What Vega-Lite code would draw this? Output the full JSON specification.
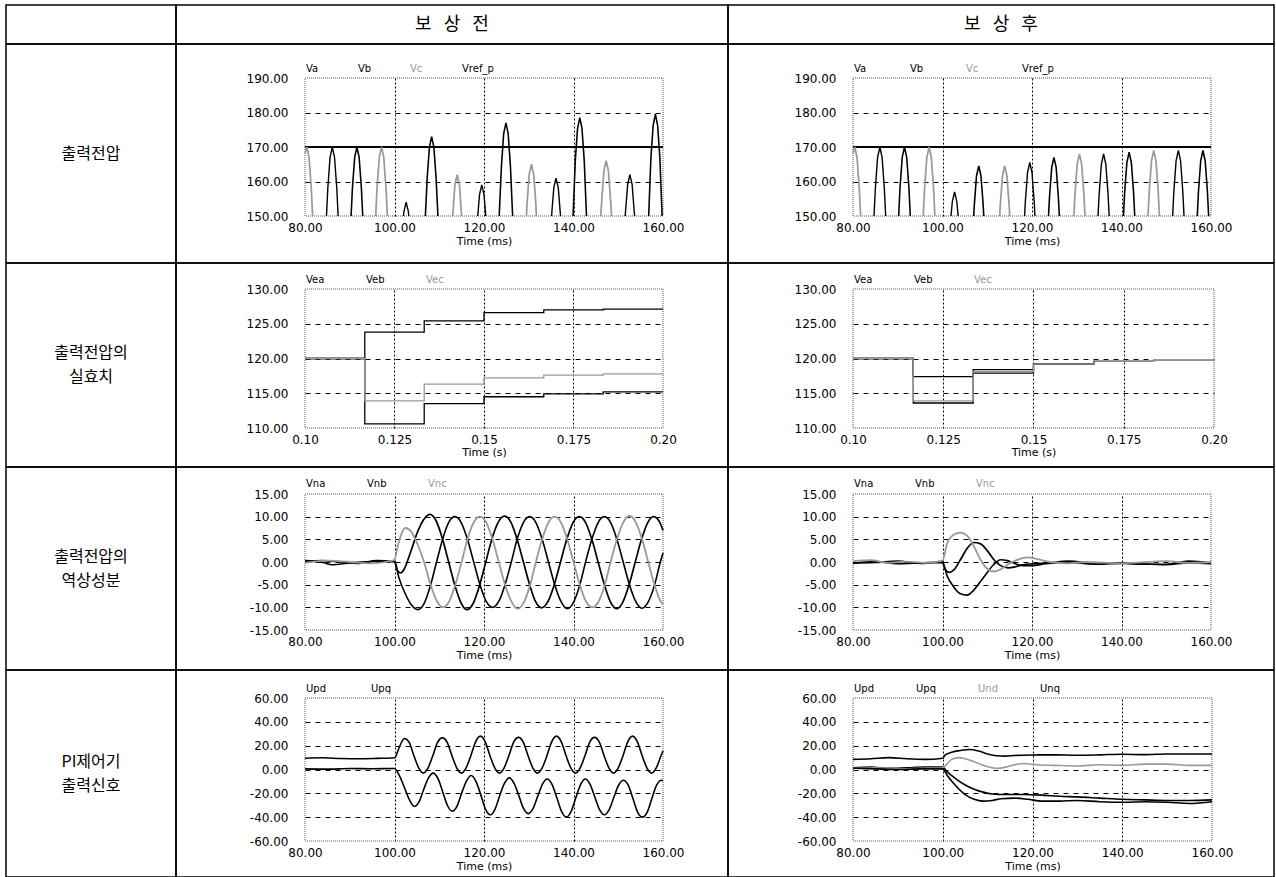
{
"$schema":"https://vega.github.io/schema/vega-lite/v6.json",
"background":"white",
"padding":{"left":5,"top":4,"right":3,"bottom":1},
"columns":3,"spacing":0,"bounds":"flush","align":"each",
"resolve":{"scale":{"x":"independent","y":"independent","color":"independent","strokeWidth":"independent"},"legend":{"color":"independent"}},
"config":{"view":{"stroke":"#000","strokeWidth":1.5},"font":"DejaVu Sans",
 "axis":{"labelFont":"DejaVu Sans","labelFontSize":12,"labelColor":"#000","titleFont":"DejaVu Sans","titleFontSize":11,"titleFontWeight":"normal","titleColor":"#000"}},
"datasets":{
"box1":[{"x0":80,"x1":160,"y0":150,"y1":190}],
"box2":[{"x0":0.1,"x1":0.2,"y0":110,"y1":130}],
"box3":[{"x0":80,"x1":160,"y0":-15,"y1":15}],
"box4":[{"x0":80,"x1":160,"y0":-60,"y1":60}],
"r1a":[
{"t":80,"v":170,"s":"Vref_p","p":"r"},{"t":160,"v":170,"s":"Vref_p","p":"r"},
{"t":84.8,"v":150,"s":"Va","p":"a1"},{"t":85.1,"v":158.1,"s":"Va","p":"a1"},{"t":85.6,"v":167,"s":"Va","p":"a1"},{"t":86.1,"v":170,"s":"Va","p":"a1"},{"t":86.6,"v":167,"s":"Va","p":"a1"},{"t":87.1,"v":158.1,"s":"Va","p":"a1"},{"t":87.4,"v":150,"s":"Va","p":"a1"},
{"t":102,"v":150,"s":"Va","p":"a2"},{"t":102.1,"v":151.3,"s":"Va","p":"a2"},{"t":102.6,"v":154,"s":"Va","p":"a2"},{"t":103.1,"v":151.3,"s":"Va","p":"a2"},{"t":103.2,"v":150,"s":"Va","p":"a2"},
{"t":118.6,"v":150,"s":"Va","p":"a3"},{"t":119,"v":156.2,"s":"Va","p":"a3"},{"t":119.5,"v":159,"s":"Va","p":"a3"},{"t":120,"v":156.2,"s":"Va","p":"a3"},{"t":120.4,"v":150,"s":"Va","p":"a3"},
{"t":135.1,"v":150,"s":"Va","p":"a4"},{"t":135.6,"v":158.2,"s":"Va","p":"a4"},{"t":136.1,"v":161,"s":"Va","p":"a4"},{"t":136.6,"v":158.2,"s":"Va","p":"a4"},{"t":137.1,"v":150,"s":"Va","p":"a4"},
{"t":151.55,"v":150,"s":"Va","p":"a5"},{"t":152.1,"v":159.1,"s":"Va","p":"a5"},{"t":152.6,"v":162,"s":"Va","p":"a5"},{"t":153.1,"v":159.1,"s":"Va","p":"a5"},{"t":153.65,"v":150,"s":"Va","p":"a5"},
{"t":90.3,"v":150,"s":"Vb","p":"b1"},{"t":90.6,"v":158.1,"s":"Vb","p":"b1"},{"t":91.1,"v":167,"s":"Vb","p":"b1"},{"t":91.6,"v":170,"s":"Vb","p":"b1"},{"t":92.1,"v":167,"s":"Vb","p":"b1"},{"t":92.6,"v":158.1,"s":"Vb","p":"b1"},{"t":92.9,"v":150,"s":"Vb","p":"b1"},
{"t":106.9,"v":150,"s":"Vb","p":"b2"},{"t":107.3,"v":160.9,"s":"Vb","p":"b2"},{"t":107.8,"v":169.9,"s":"Vb","p":"b2"},{"t":108.3,"v":173,"s":"Vb","p":"b2"},{"t":108.8,"v":169.9,"s":"Vb","p":"b2"},{"t":109.3,"v":160.9,"s":"Vb","p":"b2"},{"t":109.7,"v":150,"s":"Vb","p":"b2"},
{"t":123.4,"v":150,"s":"Vb","p":"b3"},{"t":123.9,"v":164.6,"s":"Vb","p":"b3"},{"t":124.4,"v":173.9,"s":"Vb","p":"b3"},{"t":124.9,"v":177,"s":"Vb","p":"b3"},{"t":125.4,"v":173.9,"s":"Vb","p":"b3"},{"t":125.9,"v":164.6,"s":"Vb","p":"b3"},{"t":126.4,"v":150,"s":"Vb","p":"b3"},
{"t":139.9,"v":150,"s":"Vb","p":"b4"},{"t":140.4,"v":166,"s":"Vb","p":"b4"},{"t":140.9,"v":175.3,"s":"Vb","p":"b4"},{"t":141.4,"v":178.5,"s":"Vb","p":"b4"},{"t":141.9,"v":175.3,"s":"Vb","p":"b4"},{"t":142.4,"v":166,"s":"Vb","p":"b4"},{"t":142.9,"v":150,"s":"Vb","p":"b4"},
{"t":156.8,"v":150,"s":"Vb","p":"b5"},{"t":157.3,"v":166.9,"s":"Vb","p":"b5"},{"t":157.8,"v":176.3,"s":"Vb","p":"b5"},{"t":158.3,"v":179.5,"s":"Vb","p":"b5"},{"t":158.8,"v":176.3,"s":"Vb","p":"b5"},{"t":159.3,"v":166.9,"s":"Vb","p":"b5"},{"t":159.8,"v":150,"s":"Vb","p":"b5"},
{"t":80,"v":168.1,"s":"Vc","p":"c1"},{"t":80.4,"v":170,"s":"Vc","p":"c1"},{"t":80.9,"v":167,"s":"Vc","p":"c1"},{"t":81.4,"v":158.1,"s":"Vc","p":"c1"},{"t":81.7,"v":150,"s":"Vc","p":"c1"},
{"t":95.8,"v":150,"s":"Vc","p":"c2"},{"t":96.1,"v":158.1,"s":"Vc","p":"c2"},{"t":96.6,"v":167,"s":"Vc","p":"c2"},{"t":97.1,"v":170,"s":"Vc","p":"c2"},{"t":97.6,"v":167,"s":"Vc","p":"c2"},{"t":98.1,"v":158.1,"s":"Vc","p":"c2"},{"t":98.4,"v":150,"s":"Vc","p":"c2"},
{"t":113,"v":150,"s":"Vc","p":"c3"},{"t":113.5,"v":159.1,"s":"Vc","p":"c3"},{"t":114,"v":162,"s":"Vc","p":"c3"},{"t":114.5,"v":159.1,"s":"Vc","p":"c3"},{"t":115,"v":150,"s":"Vc","p":"c3"},
{"t":129.5,"v":150,"s":"Vc","p":"c4"},{"t":129.6,"v":153.4,"s":"Vc","p":"c4"},{"t":130.1,"v":162.1,"s":"Vc","p":"c4"},{"t":130.6,"v":165,"s":"Vc","p":"c4"},{"t":131.1,"v":162.1,"s":"Vc","p":"c4"},{"t":131.6,"v":153.4,"s":"Vc","p":"c4"},{"t":131.7,"v":150,"s":"Vc","p":"c4"},
{"t":146.1,"v":150,"s":"Vc","p":"c5"},{"t":146.3,"v":154.3,"s":"Vc","p":"c5"},{"t":146.8,"v":163.1,"s":"Vc","p":"c5"},{"t":147.3,"v":166,"s":"Vc","p":"c5"},{"t":147.8,"v":163.1,"s":"Vc","p":"c5"},{"t":148.3,"v":154.3,"s":"Vc","p":"c5"},{"t":148.5,"v":150,"s":"Vc","p":"c5"}
],
"r1b":[
{"t":80,"v":170,"s":"Vref_p","p":"r"},{"t":160,"v":170,"s":"Vref_p","p":"r"},
{"t":84.7,"v":150,"s":"Va","p":"a1"},{"t":85,"v":158.1,"s":"Va","p":"a1"},{"t":85.5,"v":167,"s":"Va","p":"a1"},{"t":86,"v":170,"s":"Va","p":"a1"},{"t":86.5,"v":167,"s":"Va","p":"a1"},{"t":87,"v":158.1,"s":"Va","p":"a1"},{"t":87.3,"v":150,"s":"Va","p":"a1"},
{"t":101.9,"v":150,"s":"Va","p":"a2"},{"t":102.2,"v":154.2,"s":"Va","p":"a2"},{"t":102.7,"v":157,"s":"Va","p":"a2"},{"t":103.2,"v":154.2,"s":"Va","p":"a2"},{"t":103.5,"v":150,"s":"Va","p":"a2"},
{"t":118.34,"v":150,"s":"Va","p":"a3"},{"t":118.5,"v":153.9,"s":"Va","p":"a3"},{"t":119,"v":162.6,"s":"Va","p":"a3"},{"t":119.5,"v":165.5,"s":"Va","p":"a3"},{"t":120,"v":162.6,"s":"Va","p":"a3"},{"t":120.5,"v":153.9,"s":"Va","p":"a3"},{"t":120.66,"v":150,"s":"Va","p":"a3"},
{"t":134.76,"v":150,"s":"Va","p":"a4"},{"t":135,"v":156.2,"s":"Va","p":"a4"},{"t":135.5,"v":165,"s":"Va","p":"a4"},{"t":136,"v":168,"s":"Va","p":"a4"},{"t":136.5,"v":165,"s":"Va","p":"a4"},{"t":137,"v":156.2,"s":"Va","p":"a4"},{"t":137.24,"v":150,"s":"Va","p":"a4"},
{"t":151.43,"v":150,"s":"Va","p":"a5"},{"t":151.7,"v":157.1,"s":"Va","p":"a5"},{"t":152.2,"v":166,"s":"Va","p":"a5"},{"t":152.7,"v":169,"s":"Va","p":"a5"},{"t":153.2,"v":166,"s":"Va","p":"a5"},{"t":153.7,"v":157.1,"s":"Va","p":"a5"},{"t":153.97,"v":150,"s":"Va","p":"a5"},
{"t":90.2,"v":150,"s":"Vb","p":"b1"},{"t":90.5,"v":158.1,"s":"Vb","p":"b1"},{"t":91,"v":167,"s":"Vb","p":"b1"},{"t":91.5,"v":170,"s":"Vb","p":"b1"},{"t":92,"v":167,"s":"Vb","p":"b1"},{"t":92.5,"v":158.1,"s":"Vb","p":"b1"},{"t":92.8,"v":150,"s":"Vb","p":"b1"},
{"t":106.98,"v":150,"s":"Vb","p":"b2"},{"t":107.1,"v":153,"s":"Vb","p":"b2"},{"t":107.6,"v":161.6,"s":"Vb","p":"b2"},{"t":108.1,"v":164.5,"s":"Vb","p":"b2"},{"t":108.6,"v":161.6,"s":"Vb","p":"b2"},{"t":109.1,"v":153,"s":"Vb","p":"b2"},{"t":109.22,"v":150,"s":"Vb","p":"b2"},
{"t":123.69,"v":150,"s":"Vb","p":"b3"},{"t":123.9,"v":155.3,"s":"Vb","p":"b3"},{"t":124.4,"v":164,"s":"Vb","p":"b3"},{"t":124.9,"v":167,"s":"Vb","p":"b3"},{"t":125.4,"v":164,"s":"Vb","p":"b3"},{"t":125.9,"v":155.3,"s":"Vb","p":"b3"},{"t":126.11,"v":150,"s":"Vb","p":"b3"},
{"t":140.44,"v":150,"s":"Vb","p":"b4"},{"t":140.7,"v":156.7,"s":"Vb","p":"b4"},{"t":141.2,"v":165.5,"s":"Vb","p":"b4"},{"t":141.7,"v":168.5,"s":"Vb","p":"b4"},{"t":142.2,"v":165.5,"s":"Vb","p":"b4"},{"t":142.7,"v":156.7,"s":"Vb","p":"b4"},{"t":142.96,"v":150,"s":"Vb","p":"b4"},
{"t":156.93,"v":150,"s":"Vb","p":"b5"},{"t":157.2,"v":157.1,"s":"Vb","p":"b5"},{"t":157.7,"v":166,"s":"Vb","p":"b5"},{"t":158.2,"v":169,"s":"Vb","p":"b5"},{"t":158.7,"v":166,"s":"Vb","p":"b5"},{"t":159.2,"v":157.1,"s":"Vb","p":"b5"},{"t":159.47,"v":150,"s":"Vb","p":"b5"},
{"t":80,"v":168.1,"s":"Vc","p":"c1"},{"t":80.4,"v":170,"s":"Vc","p":"c1"},{"t":80.9,"v":167,"s":"Vc","p":"c1"},{"t":81.4,"v":158.1,"s":"Vc","p":"c1"},{"t":81.7,"v":150,"s":"Vc","p":"c1"},
{"t":95.7,"v":150,"s":"Vc","p":"c2"},{"t":96,"v":158.1,"s":"Vc","p":"c2"},{"t":96.5,"v":167,"s":"Vc","p":"c2"},{"t":97,"v":170,"s":"Vc","p":"c2"},{"t":97.5,"v":167,"s":"Vc","p":"c2"},{"t":98,"v":158.1,"s":"Vc","p":"c2"},{"t":98.3,"v":150,"s":"Vc","p":"c2"},
{"t":112.78,"v":150,"s":"Vc","p":"c3"},{"t":112.9,"v":153,"s":"Vc","p":"c3"},{"t":113.4,"v":161.6,"s":"Vc","p":"c3"},{"t":113.9,"v":164.5,"s":"Vc","p":"c3"},{"t":114.4,"v":161.6,"s":"Vc","p":"c3"},{"t":114.9,"v":153,"s":"Vc","p":"c3"},{"t":115.02,"v":150,"s":"Vc","p":"c3"},
{"t":129.36,"v":150,"s":"Vc","p":"c4"},{"t":129.6,"v":156.2,"s":"Vc","p":"c4"},{"t":130.1,"v":165,"s":"Vc","p":"c4"},{"t":130.6,"v":168,"s":"Vc","p":"c4"},{"t":131.1,"v":165,"s":"Vc","p":"c4"},{"t":131.6,"v":156.2,"s":"Vc","p":"c4"},{"t":131.84,"v":150,"s":"Vc","p":"c4"},
{"t":145.93,"v":150,"s":"Vc","p":"c5"},{"t":146.2,"v":157.1,"s":"Vc","p":"c5"},{"t":146.7,"v":166,"s":"Vc","p":"c5"},{"t":147.2,"v":169,"s":"Vc","p":"c5"},{"t":147.7,"v":166,"s":"Vc","p":"c5"},{"t":148.2,"v":157.1,"s":"Vc","p":"c5"},{"t":148.47,"v":150,"s":"Vc","p":"c5"}
],
"r2a":[
{"t":0.1,"v":120,"s":"Vea"},{"t":0.1167,"v":110.6,"s":"Vea"},{"t":0.1333,"v":113.5,"s":"Vea"},{"t":0.15,"v":114.5,"s":"Vea"},{"t":0.1667,"v":114.9,"s":"Vea"},{"t":0.1833,"v":115.2,"s":"Vea"},{"t":0.2,"v":115.2,"s":"Vea"},
{"t":0.1,"v":120,"s":"Veb"},{"t":0.1167,"v":123.8,"s":"Veb"},{"t":0.1333,"v":125.4,"s":"Veb"},{"t":0.15,"v":126.6,"s":"Veb"},{"t":0.1667,"v":127.0,"s":"Veb"},{"t":0.1833,"v":127.1,"s":"Veb"},{"t":0.2,"v":127.1,"s":"Veb"},
{"t":0.1,"v":120,"s":"Vec"},{"t":0.1167,"v":113.9,"s":"Vec"},{"t":0.1333,"v":116.3,"s":"Vec"},{"t":0.15,"v":117.2,"s":"Vec"},{"t":0.1667,"v":117.6,"s":"Vec"},{"t":0.1833,"v":117.8,"s":"Vec"},{"t":0.2,"v":117.8,"s":"Vec"}
],
"r2b":[
{"t":0.1,"v":120,"s":"Vea"},{"t":0.1167,"v":117.4,"s":"Vea"},{"t":0.1333,"v":118.4,"s":"Vea"},{"t":0.15,"v":119.2,"s":"Vea"},{"t":0.1667,"v":119.7,"s":"Vea"},{"t":0.1833,"v":119.85,"s":"Vea"},{"t":0.2,"v":119.85,"s":"Vea"},
{"t":0.1,"v":120,"s":"Veb"},{"t":0.1167,"v":113.6,"s":"Veb"},{"t":0.1333,"v":117.9,"s":"Veb"},{"t":0.15,"v":119.2,"s":"Veb"},{"t":0.1667,"v":119.7,"s":"Veb"},{"t":0.1833,"v":119.85,"s":"Veb"},{"t":0.2,"v":119.85,"s":"Veb"},
{"t":0.1,"v":120,"s":"Vec"},{"t":0.1167,"v":113.9,"s":"Vec"},{"t":0.1333,"v":118.1,"s":"Vec"},{"t":0.15,"v":119.2,"s":"Vec"},{"t":0.1667,"v":119.7,"s":"Vec"},{"t":0.1833,"v":119.85,"s":"Vec"},{"t":0.2,"v":119.85,"s":"Vec"}
],
"r3a":[
{"t":80,"v":0.3,"s":"Vna"},{"t":84,"v":-0.1,"s":"Vna"},{"t":86,"v":-0.6,"s":"Vna"},{"t":90,"v":-0.2,"s":"Vna"},{"t":95,"v":0.1,"s":"Vna"},{"t":100,"v":0.2,"s":"Vna"},{"t":101,"v":-3.5,"s":"Vna"},{"t":102.4,"v":-7,"s":"Vna"},{"t":103.8,"v":-9.5,"s":"Vna"},{"t":105.2,"v":-10.5,"s":"Vna"},{"t":106.6,"v":-9.2,"s":"Vna"},{"t":108,"v":-5.3,"s":"Vna"},{"t":109.4,"v":0,"s":"Vna"},{"t":110.8,"v":5.2,"s":"Vna"},{"t":112.2,"v":8.9,"s":"Vna"},{"t":113.5,"v":10,"s":"Vna"},{"t":114.9,"v":8.7,"s":"Vna"},{"t":116.3,"v":5,"s":"Vna"},{"t":117.7,"v":0,"s":"Vna"},{"t":119.1,"v":-5,"s":"Vna"},{"t":120.5,"v":-8.7,"s":"Vna"},{"t":121.9,"v":-10,"s":"Vna"},{"t":123.3,"v":-8.7,"s":"Vna"},{"t":124.7,"v":-5,"s":"Vna"},{"t":126.1,"v":0,"s":"Vna"},{"t":127.4,"v":5,"s":"Vna"},{"t":128.8,"v":8.7,"s":"Vna"},{"t":130.2,"v":10,"s":"Vna"},{"t":131.6,"v":8.7,"s":"Vna"},{"t":133,"v":5,"s":"Vna"},{"t":134.4,"v":0,"s":"Vna"},{"t":135.8,"v":-5,"s":"Vna"},{"t":137.2,"v":-8.7,"s":"Vna"},{"t":138.6,"v":-10.3,"s":"Vna"},{"t":140,"v":-8.9,"s":"Vna"},{"t":141.4,"v":-5.1,"s":"Vna"},{"t":142.7,"v":0,"s":"Vna"},{"t":144.1,"v":5,"s":"Vna"},{"t":145.5,"v":8.7,"s":"Vna"},{"t":146.9,"v":10,"s":"Vna"},{"t":148.3,"v":8.7,"s":"Vna"},{"t":149.7,"v":5,"s":"Vna"},{"t":151.1,"v":0,"s":"Vna"},{"t":152.5,"v":-5,"s":"Vna"},{"t":153.9,"v":-8.7,"s":"Vna"},{"t":155.3,"v":-10.2,"s":"Vna"},{"t":156.7,"v":-8.8,"s":"Vna"},{"t":158.1,"v":-5.1,"s":"Vna"},{"t":159.4,"v":0,"s":"Vna"},{"t":160,"v":2,"s":"Vna"},
{"t":80,"v":0.1,"s":"Vnb"},{"t":84,"v":0.3,"s":"Vnb"},{"t":88,"v":0,"s":"Vnb"},{"t":92,"v":-0.3,"s":"Vnb"},{"t":96,"v":0.3,"s":"Vnb"},{"t":100,"v":0,"s":"Vnb"},{"t":100.6,"v":-1.8,"s":"Vnb"},{"t":101.4,"v":-2.4,"s":"Vnb"},{"t":102.2,"v":-1.5,"s":"Vnb"},{"t":103.7,"v":2.5,"s":"Vnb"},{"t":105.1,"v":6.5,"s":"Vnb"},{"t":106.5,"v":9.3,"s":"Vnb"},{"t":107.9,"v":10.5,"s":"Vnb"},{"t":109.3,"v":9.1,"s":"Vnb"},{"t":110.7,"v":5.2,"s":"Vnb"},{"t":112.1,"v":0,"s":"Vnb"},{"t":113.5,"v":-5.2,"s":"Vnb"},{"t":114.9,"v":-9.1,"s":"Vnb"},{"t":116.2,"v":-10.5,"s":"Vnb"},{"t":117.6,"v":-9.1,"s":"Vnb"},{"t":119,"v":-5.2,"s":"Vnb"},{"t":120.4,"v":0,"s":"Vnb"},{"t":121.8,"v":5.2,"s":"Vnb"},{"t":123.2,"v":8.8,"s":"Vnb"},{"t":124.6,"v":10.1,"s":"Vnb"},{"t":126,"v":8.8,"s":"Vnb"},{"t":127.4,"v":5,"s":"Vnb"},{"t":128.8,"v":0,"s":"Vnb"},{"t":130.2,"v":-5,"s":"Vnb"},{"t":131.5,"v":-8.7,"s":"Vnb"},{"t":132.9,"v":-10.1,"s":"Vnb"},{"t":134.3,"v":-8.7,"s":"Vnb"},{"t":135.7,"v":-5,"s":"Vnb"},{"t":137.1,"v":0,"s":"Vnb"},{"t":138.5,"v":5,"s":"Vnb"},{"t":139.9,"v":8.7,"s":"Vnb"},{"t":141.3,"v":10,"s":"Vnb"},{"t":142.7,"v":8.7,"s":"Vnb"},{"t":144.1,"v":5,"s":"Vnb"},{"t":145.5,"v":0,"s":"Vnb"},{"t":146.9,"v":-5,"s":"Vnb"},{"t":148.2,"v":-8.7,"s":"Vnb"},{"t":149.6,"v":-10.3,"s":"Vnb"},{"t":151,"v":-8.9,"s":"Vnb"},{"t":152.4,"v":-5.1,"s":"Vnb"},{"t":153.8,"v":0,"s":"Vnb"},{"t":155.2,"v":5,"s":"Vnb"},{"t":156.6,"v":8.7,"s":"Vnb"},{"t":157.9,"v":10,"s":"Vnb"},{"t":159.3,"v":8.7,"s":"Vnb"},{"t":160,"v":7,"s":"Vnb"},
{"t":80,"v":-0.2,"s":"Vnc"},{"t":85,"v":0.3,"s":"Vnc"},{"t":90,"v":0,"s":"Vnc"},{"t":95,"v":-0.3,"s":"Vnc"},{"t":100,"v":0.4,"s":"Vnc"},{"t":100.6,"v":3,"s":"Vnc"},{"t":101.3,"v":5.5,"s":"Vnc"},{"t":102.4,"v":7.5,"s":"Vnc"},{"t":103.8,"v":6.6,"s":"Vnc"},{"t":105.2,"v":3.8,"s":"Vnc"},{"t":106.6,"v":0,"s":"Vnc"},{"t":108,"v":-4.8,"s":"Vnc"},{"t":109.4,"v":-8.5,"s":"Vnc"},{"t":110.8,"v":-10,"s":"Vnc"},{"t":112.2,"v":-8.7,"s":"Vnc"},{"t":113.6,"v":-5,"s":"Vnc"},{"t":115,"v":0,"s":"Vnc"},{"t":116.3,"v":5,"s":"Vnc"},{"t":117.7,"v":8.7,"s":"Vnc"},{"t":119.1,"v":10,"s":"Vnc"},{"t":120.5,"v":8.7,"s":"Vnc"},{"t":121.9,"v":5,"s":"Vnc"},{"t":123.3,"v":0,"s":"Vnc"},{"t":124.7,"v":-5,"s":"Vnc"},{"t":126.1,"v":-8.7,"s":"Vnc"},{"t":127.5,"v":-10.3,"s":"Vnc"},{"t":128.9,"v":-8.9,"s":"Vnc"},{"t":130.3,"v":-5.1,"s":"Vnc"},{"t":131.6,"v":0,"s":"Vnc"},{"t":133,"v":5,"s":"Vnc"},{"t":134.4,"v":8.7,"s":"Vnc"},{"t":135.8,"v":10,"s":"Vnc"},{"t":137.2,"v":8.7,"s":"Vnc"},{"t":138.6,"v":5,"s":"Vnc"},{"t":140,"v":0,"s":"Vnc"},{"t":141.4,"v":-5,"s":"Vnc"},{"t":142.8,"v":-8.7,"s":"Vnc"},{"t":144.2,"v":-10,"s":"Vnc"},{"t":145.6,"v":-8.7,"s":"Vnc"},{"t":147,"v":-5,"s":"Vnc"},{"t":148.3,"v":0,"s":"Vnc"},{"t":149.7,"v":5,"s":"Vnc"},{"t":151.1,"v":8.7,"s":"Vnc"},{"t":152.5,"v":10.2,"s":"Vnc"},{"t":153.9,"v":8.8,"s":"Vnc"},{"t":155.3,"v":5.1,"s":"Vnc"},{"t":156.7,"v":0,"s":"Vnc"},{"t":158.1,"v":-5,"s":"Vnc"},{"t":159.5,"v":-8.7,"s":"Vnc"},{"t":160,"v":-9.3,"s":"Vnc"}
],
"r3b":[
{"t":80,"v":-0.3,"s":"Vna"},{"t":85,"v":0.1,"s":"Vna"},{"t":90,"v":-0.4,"s":"Vna"},{"t":95,"v":-0.2,"s":"Vna"},{"t":100,"v":0,"s":"Vna"},{"t":101,"v":-3,"s":"Vna"},{"t":102.5,"v":-5.5,"s":"Vna"},{"t":104,"v":-7,"s":"Vna"},{"t":105.5,"v":-7.3,"s":"Vna"},{"t":107,"v":-6.2,"s":"Vna"},{"t":108.5,"v":-4.3,"s":"Vna"},{"t":110,"v":-2.3,"s":"Vna"},{"t":111.5,"v":-0.5,"s":"Vna"},{"t":113,"v":0.5,"s":"Vna"},{"t":114.5,"v":0.3,"s":"Vna"},{"t":116,"v":-0.3,"s":"Vna"},{"t":118,"v":-0.8,"s":"Vna"},{"t":120,"v":-0.8,"s":"Vna"},{"t":123,"v":-0.4,"s":"Vna"},{"t":128,"v":-0.1,"s":"Vna"},{"t":135,"v":-0.5,"s":"Vna"},{"t":140,"v":-0.3,"s":"Vna"},{"t":150,"v":-0.6,"s":"Vna"},{"t":155,"v":-0.2,"s":"Vna"},{"t":160,"v":-0.4,"s":"Vna"},
{"t":80,"v":-0.2,"s":"Vnb"},{"t":85,"v":-0.1,"s":"Vnb"},{"t":90,"v":0.2,"s":"Vnb"},{"t":95,"v":-0.3,"s":"Vnb"},{"t":100,"v":-0.1,"s":"Vnb"},{"t":100.5,"v":-1.5,"s":"Vnb"},{"t":101.5,"v":-2.3,"s":"Vnb"},{"t":102.5,"v":-1.8,"s":"Vnb"},{"t":104,"v":0.5,"s":"Vnb"},{"t":105.5,"v":3,"s":"Vnb"},{"t":107,"v":4.3,"s":"Vnb"},{"t":108.5,"v":4,"s":"Vnb"},{"t":110,"v":2.5,"s":"Vnb"},{"t":111.5,"v":0.5,"s":"Vnb"},{"t":113,"v":-0.8,"s":"Vnb"},{"t":114.7,"v":-1.3,"s":"Vnb"},{"t":116.5,"v":-1,"s":"Vnb"},{"t":118,"v":-0.6,"s":"Vnb"},{"t":120,"v":-0.4,"s":"Vnb"},{"t":124,"v":-0.2,"s":"Vnb"},{"t":128,"v":0.2,"s":"Vnb"},{"t":135,"v":-0.3,"s":"Vnb"},{"t":140,"v":-0.2,"s":"Vnb"},{"t":145,"v":-0.5,"s":"Vnb"},{"t":150,"v":-0.5,"s":"Vnb"},{"t":155,"v":0.2,"s":"Vnb"},{"t":160,"v":-0.2,"s":"Vnb"},
{"t":80,"v":0.2,"s":"Vnc"},{"t":84,"v":0.4,"s":"Vnc"},{"t":88,"v":-0.2,"s":"Vnc"},{"t":92,"v":0.1,"s":"Vnc"},{"t":96,"v":-0.2,"s":"Vnc"},{"t":100,"v":0.3,"s":"Vnc"},{"t":101,"v":4,"s":"Vnc"},{"t":102.5,"v":6,"s":"Vnc"},{"t":104,"v":6.5,"s":"Vnc"},{"t":105.5,"v":5.8,"s":"Vnc"},{"t":107,"v":3.5,"s":"Vnc"},{"t":108.5,"v":0.5,"s":"Vnc"},{"t":110,"v":-1.5,"s":"Vnc"},{"t":111.5,"v":-2.1,"s":"Vnc"},{"t":113,"v":-1.6,"s":"Vnc"},{"t":115,"v":-0.3,"s":"Vnc"},{"t":117,"v":0.6,"s":"Vnc"},{"t":119,"v":1,"s":"Vnc"},{"t":121,"v":0.7,"s":"Vnc"},{"t":124,"v":0,"s":"Vnc"},{"t":128,"v":-0.3,"s":"Vnc"},{"t":132,"v":0,"s":"Vnc"},{"t":140,"v":-0.3,"s":"Vnc"},{"t":150,"v":0.2,"s":"Vnc"},{"t":155,"v":-0.2,"s":"Vnc"},{"t":160,"v":0,"s":"Vnc"}
],
"r4a":[
{"t":80,"v":9.5,"s":"Upd"},{"t":84,"v":9.8,"s":"Upd"},{"t":88,"v":9.2,"s":"Upd"},{"t":92,"v":9,"s":"Upd"},{"t":96,"v":9.3,"s":"Upd"},{"t":100,"v":9.8,"s":"Upd"},{"t":101.1,"v":19,"s":"Upd"},{"t":102.2,"v":26,"s":"Upd"},{"t":103.3,"v":22.6,"s":"Upd"},{"t":104.3,"v":12,"s":"Upd"},{"t":105.4,"v":1.4,"s":"Upd"},{"t":106.45,"v":-3,"s":"Upd"},{"t":107.5,"v":1.4,"s":"Upd"},{"t":108.6,"v":12,"s":"Upd"},{"t":109.6,"v":22.6,"s":"Upd"},{"t":110.7,"v":26.5,"s":"Upd"},{"t":111.8,"v":22.6,"s":"Upd"},{"t":112.8,"v":12,"s":"Upd"},{"t":113.9,"v":1.4,"s":"Upd"},{"t":114.95,"v":-3,"s":"Upd"},{"t":116,"v":1.4,"s":"Upd"},{"t":117.1,"v":12,"s":"Upd"},{"t":118.1,"v":23,"s":"Upd"},{"t":119.2,"v":28,"s":"Upd"},{"t":120.3,"v":23,"s":"Upd"},{"t":121.3,"v":12,"s":"Upd"},{"t":122.4,"v":1.4,"s":"Upd"},{"t":123.45,"v":-3,"s":"Upd"},{"t":124.5,"v":1.4,"s":"Upd"},{"t":125.6,"v":12,"s":"Upd"},{"t":126.6,"v":22.8,"s":"Upd"},{"t":127.7,"v":27,"s":"Upd"},{"t":128.8,"v":22.8,"s":"Upd"},{"t":129.8,"v":12,"s":"Upd"},{"t":130.9,"v":1.4,"s":"Upd"},{"t":131.95,"v":-3,"s":"Upd"},{"t":133,"v":1.4,"s":"Upd"},{"t":134.1,"v":12,"s":"Upd"},{"t":135.1,"v":23,"s":"Upd"},{"t":136.2,"v":28,"s":"Upd"},{"t":137.3,"v":23,"s":"Upd"},{"t":138.3,"v":12,"s":"Upd"},{"t":139.4,"v":1.4,"s":"Upd"},{"t":140.45,"v":-3,"s":"Upd"},{"t":141.5,"v":1.4,"s":"Upd"},{"t":142.6,"v":12,"s":"Upd"},{"t":143.6,"v":22.8,"s":"Upd"},{"t":144.7,"v":27,"s":"Upd"},{"t":145.8,"v":22.8,"s":"Upd"},{"t":146.8,"v":12,"s":"Upd"},{"t":147.9,"v":1.4,"s":"Upd"},{"t":148.95,"v":-3,"s":"Upd"},{"t":150,"v":1.4,"s":"Upd"},{"t":151.1,"v":12,"s":"Upd"},{"t":152.1,"v":23,"s":"Upd"},{"t":153.2,"v":28,"s":"Upd"},{"t":154.3,"v":23,"s":"Upd"},{"t":155.3,"v":12,"s":"Upd"},{"t":156.4,"v":1.4,"s":"Upd"},{"t":157.45,"v":-3,"s":"Upd"},{"t":158.5,"v":1.4,"s":"Upd"},{"t":159.6,"v":12,"s":"Upd"},{"t":160,"v":15.5,"s":"Upd"},
{"t":80,"v":0.5,"s":"Upq"},{"t":85,"v":0.3,"s":"Upq"},{"t":90,"v":0.8,"s":"Upq"},{"t":95,"v":0.6,"s":"Upq"},{"t":100,"v":0.8,"s":"Upq"},{"t":101.2,"v":-6,"s":"Upq"},{"t":102.3,"v":-16,"s":"Upq"},{"t":103.4,"v":-26,"s":"Upq"},{"t":104.4,"v":-31,"s":"Upq"},{"t":105.5,"v":-27,"s":"Upq"},{"t":106.5,"v":-17,"s":"Upq"},{"t":107.6,"v":-7,"s":"Upq"},{"t":108.65,"v":-3,"s":"Upq"},{"t":109.7,"v":-7.5,"s":"Upq"},{"t":110.8,"v":-19,"s":"Upq"},{"t":111.8,"v":-30,"s":"Upq"},{"t":112.9,"v":-35,"s":"Upq"},{"t":114,"v":-30.5,"s":"Upq"},{"t":115,"v":-20,"s":"Upq"},{"t":116.1,"v":-9.5,"s":"Upq"},{"t":117.15,"v":-5,"s":"Upq"},{"t":118.2,"v":-10,"s":"Upq"},{"t":119.3,"v":-21.5,"s":"Upq"},{"t":120.3,"v":-33,"s":"Upq"},{"t":121.4,"v":-38,"s":"Upq"},{"t":122.5,"v":-33,"s":"Upq"},{"t":123.5,"v":-22,"s":"Upq"},{"t":124.6,"v":-11.5,"s":"Upq"},{"t":125.65,"v":-7,"s":"Upq"},{"t":126.7,"v":-11.5,"s":"Upq"},{"t":127.8,"v":-22,"s":"Upq"},{"t":128.8,"v":-32.5,"s":"Upq"},{"t":129.9,"v":-37,"s":"Upq"},{"t":131,"v":-32.5,"s":"Upq"},{"t":132,"v":-22.5,"s":"Upq"},{"t":133.1,"v":-12,"s":"Upq"},{"t":134.15,"v":-8,"s":"Upq"},{"t":135.2,"v":-12.5,"s":"Upq"},{"t":136.3,"v":-24,"s":"Upq"},{"t":137.3,"v":-35,"s":"Upq"},{"t":138.4,"v":-40,"s":"Upq"},{"t":139.5,"v":-35,"s":"Upq"},{"t":140.5,"v":-24,"s":"Upq"},{"t":141.6,"v":-12.5,"s":"Upq"},{"t":142.65,"v":-8,"s":"Upq"},{"t":143.7,"v":-12.5,"s":"Upq"},{"t":144.8,"v":-23.5,"s":"Upq"},{"t":145.8,"v":-33.5,"s":"Upq"},{"t":146.9,"v":-38,"s":"Upq"},{"t":148,"v":-33.5,"s":"Upq"},{"t":149,"v":-23.5,"s":"Upq"},{"t":150.1,"v":-13,"s":"Upq"},{"t":151.15,"v":-9,"s":"Upq"},{"t":152.2,"v":-13,"s":"Upq"},{"t":153.3,"v":-24.5,"s":"Upq"},{"t":154.3,"v":-35.5,"s":"Upq"},{"t":155.4,"v":-40,"s":"Upq"},{"t":156.5,"v":-35.5,"s":"Upq"},{"t":157.5,"v":-24.5,"s":"Upq"},{"t":158.6,"v":-13,"s":"Upq"},{"t":159.65,"v":-9,"s":"Upq"},{"t":160,"v":-9.5,"s":"Upq"}
],
"r4b":[
{"t":80,"v":8.5,"s":"Upd"},{"t":84,"v":9,"s":"Upd"},{"t":88,"v":10,"s":"Upd"},{"t":92,"v":9,"s":"Upd"},{"t":96,"v":8.5,"s":"Upd"},{"t":100,"v":9.5,"s":"Upd"},{"t":100.5,"v":12,"s":"Upd"},{"t":102,"v":14.5,"s":"Upd"},{"t":104,"v":16,"s":"Upd"},{"t":106,"v":16.8,"s":"Upd"},{"t":108,"v":15.5,"s":"Upd"},{"t":110,"v":13,"s":"Upd"},{"t":112,"v":11.5,"s":"Upd"},{"t":114,"v":11.2,"s":"Upd"},{"t":116,"v":11.8,"s":"Upd"},{"t":120,"v":12.2,"s":"Upd"},{"t":125,"v":12.3,"s":"Upd"},{"t":130,"v":12,"s":"Upd"},{"t":135,"v":12.3,"s":"Upd"},{"t":140,"v":12.8,"s":"Upd"},{"t":145,"v":12.5,"s":"Upd"},{"t":150,"v":13,"s":"Upd"},{"t":155,"v":13,"s":"Upd"},{"t":160,"v":13,"s":"Upd"},
{"t":80,"v":1.5,"s":"Upq"},{"t":84,"v":2,"s":"Upq"},{"t":88,"v":1,"s":"Upq"},{"t":92,"v":1.5,"s":"Upq"},{"t":96,"v":2,"s":"Upq"},{"t":100,"v":2,"s":"Upq"},{"t":101,"v":-2,"s":"Upq"},{"t":103,"v":-8,"s":"Upq"},{"t":105,"v":-13,"s":"Upq"},{"t":107,"v":-16.5,"s":"Upq"},{"t":109,"v":-19,"s":"Upq"},{"t":111,"v":-20.5,"s":"Upq"},{"t":114,"v":-21,"s":"Upq"},{"t":118,"v":-21,"s":"Upq"},{"t":122,"v":-21.5,"s":"Upq"},{"t":126,"v":-22.5,"s":"Upq"},{"t":130,"v":-23,"s":"Upq"},{"t":135,"v":-24,"s":"Upq"},{"t":140,"v":-25,"s":"Upq"},{"t":145,"v":-25.5,"s":"Upq"},{"t":150,"v":-26,"s":"Upq"},{"t":155,"v":-26,"s":"Upq"},{"t":160,"v":-25.5,"s":"Upq"},
{"t":80,"v":1,"s":"Und"},{"t":85,"v":1.5,"s":"Und"},{"t":90,"v":0.5,"s":"Und"},{"t":95,"v":1,"s":"Und"},{"t":100,"v":1.5,"s":"Und"},{"t":101,"v":5,"s":"Und"},{"t":102,"v":8.5,"s":"Und"},{"t":103.5,"v":10,"s":"Und"},{"t":105,"v":9,"s":"Und"},{"t":107,"v":6.5,"s":"Und"},{"t":109,"v":3.5,"s":"Und"},{"t":111,"v":1.5,"s":"Und"},{"t":112.5,"v":1,"s":"Und"},{"t":114,"v":2,"s":"Und"},{"t":116,"v":4,"s":"Und"},{"t":118,"v":5,"s":"Und"},{"t":121,"v":4,"s":"Und"},{"t":125,"v":3.5,"s":"Und"},{"t":130,"v":3,"s":"Und"},{"t":135,"v":4,"s":"Und"},{"t":140,"v":3.5,"s":"Und"},{"t":145,"v":4.5,"s":"Und"},{"t":150,"v":4.5,"s":"Und"},{"t":155,"v":3.5,"s":"Und"},{"t":160,"v":3.5,"s":"Und"},
{"t":80,"v":1,"s":"Unq"},{"t":85,"v":0.5,"s":"Unq"},{"t":90,"v":0,"s":"Unq"},{"t":95,"v":0.5,"s":"Unq"},{"t":100,"v":0.5,"s":"Unq"},{"t":101,"v":-5,"s":"Unq"},{"t":103,"v":-14,"s":"Unq"},{"t":105,"v":-21,"s":"Unq"},{"t":107,"v":-25,"s":"Unq"},{"t":109,"v":-26.5,"s":"Unq"},{"t":111,"v":-26,"s":"Unq"},{"t":113,"v":-24.5,"s":"Unq"},{"t":116,"v":-24,"s":"Unq"},{"t":119,"v":-25,"s":"Unq"},{"t":122,"v":-26.5,"s":"Unq"},{"t":126,"v":-26.5,"s":"Unq"},{"t":130,"v":-26,"s":"Unq"},{"t":135,"v":-27,"s":"Unq"},{"t":140,"v":-27.5,"s":"Unq"},{"t":145,"v":-27,"s":"Unq"},{"t":150,"v":-27.5,"s":"Unq"},{"t":155,"v":-28.5,"s":"Unq"},{"t":160,"v":-27,"s":"Unq"}
]
},
"concat":[
{"width":170,"height":39,"data":{"values":[{"h":""}]},"layer":[
 {"mark":{"type":"rect","filled":false,"stroke":"#000","strokeWidth":1.5},"encoding":{}},
 {"mark":{"type":"text"},"encoding":{"text":{"field":"h","type":"nominal"}}}]},
{"width":552,"height":39,"data":{"values":[{"h":"보 \u00a0\u00a0상 \u00a0\u00a0전"}]},"layer":[
 {"mark":{"type":"rect","filled":false,"stroke":"#000","strokeWidth":1.5},"encoding":{}},
 {"mark":{"type":"text","font":"Noto Sans CJK KR","fontSize":18,"color":"#000"},"encoding":{"text":{"field":"h","type":"nominal"}}}]},
{"width":546,"height":39,"data":{"values":[{"h":"보 \u00a0\u00a0상 \u00a0\u00a0후"}]},"layer":[
 {"mark":{"type":"rect","filled":false,"stroke":"#000","strokeWidth":1.5},"encoding":{}},
 {"mark":{"type":"text","font":"Noto Sans CJK KR","fontSize":18,"color":"#000"},"encoding":{"text":{"field":"h","type":"nominal"}}}]},

{"width":170,"height":219,"data":{"values":[{"h":"출력전압"}]},"layer":[
 {"mark":{"type":"rect","filled":false,"stroke":"#000","strokeWidth":1.5},"encoding":{}},
 {"mark":{"type":"text","font":"Noto Sans CJK KR","fontSize":16,"lineBreak":"\n","lineHeight":24,"color":"#000"},"encoding":{"text":{"field":"h","type":"nominal"}}}]},
{"width":552,"height":219,"resolve":{"axis":{"x":"independent"}},"layer":[
 {"data":{"name":"box1"},"mark":{"type":"rect","filled":false,"stroke":"#555","strokeWidth":1,"strokeDash":[1,1]},
  "encoding":{
   "x":{"field":"x0","type":"quantitative","scale":{"domain":[80,160],"range":[129,487],"nice":false,"zero":false},"axis":{"orient":"top","grid":true,"values":[100,120,140],"labels":false,"ticks":false,"domain":false,"title":null,"gridDash":[2,2],"gridColor":"#000"}},
   "x2":{"field":"x1"},
   "y":{"field":"y0","type":"quantitative","scale":{"domain":[150,190],"range":[172,34],"nice":false,"zero":false},"axis":{"orient":"left","offset":-129,"values":[150,160,170,180,190],"grid":true,"gridDash":[5,5],"gridColor":"#000","gridOpacity":{"condition":{"test":"datum.value <= 150 || datum.value >= 190","value":0},"value":1},"labelExpr":"replace(format(datum.value, '.2f'), '\u2212', '-')","labelPadding":17,"labelOverlap":false,"title":null,"ticks":false,"domain":false}},
   "y2":{"field":"y1"}}},
 {"data":{"name":"r1a"},"mark":{"type":"line"},
  "encoding":{
   "x":{"field":"t","type":"quantitative","scale":{"domain":[80,160],"range":[129,487],"nice":false,"zero":false},"axis":{"orient":"bottom","offset":-47,"values":[80,100,120,140,160],"format":".2f","grid":false,"ticks":false,"domain":false,"labelPadding":6,"labelFlush":false,"labelOverlap":false,"title":"Time (ms)","titlePadding":2}},
   "y":{"field":"v","type":"quantitative","scale":{"domain":[150,190],"range":[172,34],"nice":false,"zero":false},"axis":{"orient":"left","offset":-129,"values":[150,160,170,180,190],"grid":true,"gridDash":[5,5],"gridColor":"#000","gridOpacity":{"condition":{"test":"datum.value <= 150 || datum.value >= 190","value":0},"value":1},"labelExpr":"replace(format(datum.value, '.2f'), '\u2212', '-')","labelPadding":17,"labelOverlap":false,"title":null,"ticks":false,"domain":false}},
   "color":{"field":"s","type":"nominal","scale":{"domain":["Va","Vb","Vc","Vref_p"],"range":["#000","#000","#999","#000"]},"legend":{"orient":"none","legendX":120,"legendY":20,"direction":"horizontal","columns":4,"title":null,"symbolSize":0,"symbolOpacity":0,"symbolStrokeWidth":0,"labelOffset":0,"columnPadding":10,"gridAlign":"all","labelFont":"DejaVu Sans","labelFontSize":10,"labelColor":{"expr":"datum.value == 'Vc' ? '#999' : '#000'"}}},
   "strokeWidth":{"field":"s","type":"nominal","scale":{"domain":["Va","Vb","Vc","Vref_p"],"range":[1.4,1.9,1.2,1.3]},"legend":null},
   "detail":{"field":"p"}}}
]},
{"width":546,"height":219,"resolve":{"axis":{"x":"independent"}},"layer":[
 {"data":{"name":"box1"},"mark":{"type":"rect","filled":false,"stroke":"#555","strokeWidth":1,"strokeDash":[1,1]},
  "encoding":{
   "x":{"field":"x0","type":"quantitative","scale":{"domain":[80,160],"range":[125,483],"nice":false,"zero":false},"axis":{"orient":"top","grid":true,"values":[100,120,140],"labels":false,"ticks":false,"domain":false,"title":null,"gridDash":[2,2],"gridColor":"#000"}},
   "x2":{"field":"x1"},
   "y":{"field":"y0","type":"quantitative","scale":{"domain":[150,190],"range":[172,34],"nice":false,"zero":false},"axis":{"orient":"left","offset":-125,"values":[150,160,170,180,190],"grid":true,"gridDash":[5,5],"gridColor":"#000","gridOpacity":{"condition":{"test":"datum.value <= 150 || datum.value >= 190","value":0},"value":1},"labelExpr":"replace(format(datum.value, '.2f'), '\u2212', '-')","labelPadding":17,"labelOverlap":false,"title":null,"ticks":false,"domain":false}},
   "y2":{"field":"y1"}}},
 {"data":{"name":"r1b"},"mark":{"type":"line"},
  "encoding":{
   "x":{"field":"t","type":"quantitative","scale":{"domain":[80,160],"range":[125,483],"nice":false,"zero":false},"axis":{"orient":"bottom","offset":-47,"values":[80,100,120,140,160],"format":".2f","grid":false,"ticks":false,"domain":false,"labelPadding":6,"labelFlush":false,"labelOverlap":false,"title":"Time (ms)","titlePadding":2}},
   "y":{"field":"v","type":"quantitative","scale":{"domain":[150,190],"range":[172,34],"nice":false,"zero":false},"axis":{"orient":"left","offset":-125,"values":[150,160,170,180,190],"grid":true,"gridDash":[5,5],"gridColor":"#000","gridOpacity":{"condition":{"test":"datum.value <= 150 || datum.value >= 190","value":0},"value":1},"labelExpr":"replace(format(datum.value, '.2f'), '\u2212', '-')","labelPadding":17,"labelOverlap":false,"title":null,"ticks":false,"domain":false}},
   "color":{"field":"s","type":"nominal","scale":{"domain":["Va","Vb","Vc","Vref_p"],"range":["#000","#000","#999","#000"]},"legend":{"orient":"none","legendX":116,"legendY":20,"direction":"horizontal","columns":4,"title":null,"symbolSize":0,"symbolOpacity":0,"symbolStrokeWidth":0,"labelOffset":0,"columnPadding":14,"gridAlign":"all","labelFont":"DejaVu Sans","labelFontSize":10,"labelColor":{"expr":"datum.value == 'Vc' ? '#999' : '#000'"}}},
   "strokeWidth":{"field":"s","type":"nominal","scale":{"domain":["Va","Vb","Vc","Vref_p"],"range":[1.4,1.9,1.2,1.3]},"legend":null},
   "detail":{"field":"p"}}}
]},

{"width":170,"height":204,"data":{"values":[{"h":"출력전압의\n실효치"}]},"layer":[
 {"mark":{"type":"rect","filled":false,"stroke":"#000","strokeWidth":1.5},"encoding":{}},
 {"mark":{"type":"text","font":"Noto Sans CJK KR","fontSize":16,"lineBreak":"\n","lineHeight":24,"dy":-12,"color":"#000"},"encoding":{"text":{"field":"h","type":"nominal"}}}]},
{"width":552,"height":204,"resolve":{"axis":{"x":"independent"}},"layer":[
 {"data":{"name":"box2"},"mark":{"type":"rect","filled":false,"stroke":"#555","strokeWidth":1,"strokeDash":[1,1]},
  "encoding":{
   "x":{"field":"x0","type":"quantitative","scale":{"domain":[0.1,0.2],"range":[129,487],"nice":false,"zero":false},"axis":{"orient":"top","grid":true,"values":[0.125,0.15,0.175],"labels":false,"ticks":false,"domain":false,"title":null,"gridDash":[2,2],"gridColor":"#000"}},
   "x2":{"field":"x1"},
   "y":{"field":"y0","type":"quantitative","scale":{"domain":[110,130],"range":[165,26],"nice":false,"zero":false},"axis":{"orient":"left","offset":-129,"values":[110,115,120,125,130],"grid":true,"gridDash":[5,5],"gridColor":"#000","gridOpacity":{"condition":{"test":"datum.value <= 110 || datum.value >= 130","value":0},"value":1},"labelExpr":"replace(format(datum.value, '.2f'), '\u2212', '-')","labelPadding":17,"labelOverlap":false,"title":null,"ticks":false,"domain":false}},
   "y2":{"field":"y1"}}},
 {"data":{"name":"r2a"},"mark":{"type":"line","strokeWidth":1.3,"interpolate":"step-after"},
  "encoding":{
   "x":{"field":"t","type":"quantitative","scale":{"domain":[0.1,0.2],"range":[129,487],"nice":false,"zero":false},"axis":{"orient":"bottom","offset":-39,"values":[0.1,0.125,0.15,0.175,0.2],"labelExpr":"datum.value == 0.1 ? '0.10' : datum.value == 0.2 ? '0.20' : format(datum.value, '')","grid":false,"ticks":false,"domain":false,"labelPadding":6,"labelFlush":false,"labelOverlap":false,"title":"Time (s)","titlePadding":1}},
   "y":{"field":"v","type":"quantitative","scale":{"domain":[110,130],"range":[165,26],"nice":false,"zero":false},"axis":{"orient":"left","offset":-129,"values":[110,115,120,125,130],"grid":true,"gridDash":[5,5],"gridColor":"#000","gridOpacity":{"condition":{"test":"datum.value <= 110 || datum.value >= 130","value":0},"value":1},"labelExpr":"replace(format(datum.value, '.2f'), '\u2212', '-')","labelPadding":17,"labelOverlap":false,"title":null,"ticks":false,"domain":false}},
   "color":{"field":"s","type":"nominal","scale":{"domain":["Vea","Veb","Vec"],"range":["#000","#000","#999"]},"legend":{"orient":"none","legendX":120,"legendY":12,"direction":"horizontal","columns":3,"title":null,"symbolSize":0,"symbolOpacity":0,"symbolStrokeWidth":0,"labelOffset":0,"columnPadding":31,"gridAlign":"all","labelFont":"DejaVu Sans","labelFontSize":10,"labelColor":{"expr":"datum.value == 'Vec' ? '#999' : '#000'"}}}}}
]},
{"width":546,"height":204,"resolve":{"axis":{"x":"independent"}},"layer":[
 {"data":{"name":"box2"},"mark":{"type":"rect","filled":false,"stroke":"#555","strokeWidth":1,"strokeDash":[1,1]},
  "encoding":{
   "x":{"field":"x0","type":"quantitative","scale":{"domain":[0.1,0.2],"range":[125,486],"nice":false,"zero":false},"axis":{"orient":"top","grid":true,"values":[0.125,0.15,0.175],"labels":false,"ticks":false,"domain":false,"title":null,"gridDash":[2,2],"gridColor":"#000"}},
   "x2":{"field":"x1"},
   "y":{"field":"y0","type":"quantitative","scale":{"domain":[110,130],"range":[165,26],"nice":false,"zero":false},"axis":{"orient":"left","offset":-125,"values":[110,115,120,125,130],"grid":true,"gridDash":[5,5],"gridColor":"#000","gridOpacity":{"condition":{"test":"datum.value <= 110 || datum.value >= 130","value":0},"value":1},"labelExpr":"replace(format(datum.value, '.2f'), '\u2212', '-')","labelPadding":17,"labelOverlap":false,"title":null,"ticks":false,"domain":false}},
   "y2":{"field":"y1"}}},
 {"data":{"name":"r2b"},"mark":{"type":"line","strokeWidth":1.3,"interpolate":"step-after"},
  "encoding":{
   "x":{"field":"t","type":"quantitative","scale":{"domain":[0.1,0.2],"range":[125,486],"nice":false,"zero":false},"axis":{"orient":"bottom","offset":-39,"values":[0.1,0.125,0.15,0.175,0.2],"labelExpr":"datum.value == 0.1 ? '0.10' : datum.value == 0.2 ? '0.20' : format(datum.value, '')","grid":false,"ticks":false,"domain":false,"labelPadding":6,"labelFlush":false,"labelOverlap":false,"title":"Time (s)","titlePadding":1}},
   "y":{"field":"v","type":"quantitative","scale":{"domain":[110,130],"range":[165,26],"nice":false,"zero":false},"axis":{"orient":"left","offset":-125,"values":[110,115,120,125,130],"grid":true,"gridDash":[5,5],"gridColor":"#000","gridOpacity":{"condition":{"test":"datum.value <= 110 || datum.value >= 130","value":0},"value":1},"labelExpr":"replace(format(datum.value, '.2f'), '\u2212', '-')","labelPadding":17,"labelOverlap":false,"title":null,"ticks":false,"domain":false}},
   "color":{"field":"s","type":"nominal","scale":{"domain":["Vea","Veb","Vec"],"range":["#000","#000","#999"]},"legend":{"orient":"none","legendX":116,"legendY":12,"direction":"horizontal","columns":3,"title":null,"symbolSize":0,"symbolOpacity":0,"symbolStrokeWidth":0,"labelOffset":0,"columnPadding":31,"gridAlign":"all","labelFont":"DejaVu Sans","labelFontSize":10,"labelColor":{"expr":"datum.value == 'Vec' ? '#999' : '#000'"}}}}}
]},

{"width":170,"height":203,"data":{"values":[{"h":"출력전압의\n역상성분"}]},"layer":[
 {"mark":{"type":"rect","filled":false,"stroke":"#000","strokeWidth":1.5},"encoding":{}},
 {"mark":{"type":"text","font":"Noto Sans CJK KR","fontSize":16,"lineBreak":"\n","lineHeight":24,"dy":-12,"color":"#000"},"encoding":{"text":{"field":"h","type":"nominal"}}}]},
{"width":552,"height":203,"resolve":{"axis":{"x":"independent"}},"layer":[
 {"data":{"name":"box3"},"mark":{"type":"rect","filled":false,"stroke":"#555","strokeWidth":1,"strokeDash":[1,1]},
  "encoding":{
   "x":{"field":"x0","type":"quantitative","scale":{"domain":[80,160],"range":[129,487],"nice":false,"zero":false},"axis":{"orient":"top","grid":true,"values":[100,120,140],"labels":false,"ticks":false,"domain":false,"title":null,"gridDash":[2,2],"gridColor":"#000"}},
   "x2":{"field":"x1"},
   "y":{"field":"y0","type":"quantitative","scale":{"domain":[-15,15],"range":[163,27],"nice":false,"zero":false},"axis":{"orient":"left","offset":-129,"values":[-15,-10,-5,0,5,10,15],"grid":true,"gridDash":[5,5],"gridColor":"#000","gridOpacity":{"condition":{"test":"datum.value <= -15 || datum.value >= 15","value":0},"value":1},"labelExpr":"replace(format(datum.value, '.2f'), '\u2212', '-')","labelPadding":17,"labelOverlap":false,"title":null,"ticks":false,"domain":false}},
   "y2":{"field":"y1"}}},
 {"data":{"name":"r3a"},"mark":{"type":"line","interpolate":"monotone"},
  "encoding":{
   "x":{"field":"t","type":"quantitative","scale":{"domain":[80,160],"range":[129,487],"nice":false,"zero":false},"axis":{"orient":"bottom","offset":-40,"values":[80,100,120,140,160],"format":".2f","grid":false,"ticks":false,"domain":false,"labelPadding":6,"labelFlush":false,"labelOverlap":false,"title":"Time (ms)","titlePadding":2}},
   "y":{"field":"v","type":"quantitative","scale":{"domain":[-15,15],"range":[163,27],"nice":false,"zero":false},"axis":{"orient":"left","offset":-129,"values":[-15,-10,-5,0,5,10,15],"grid":true,"gridDash":[5,5],"gridColor":"#000","gridOpacity":{"condition":{"test":"datum.value <= -15 || datum.value >= 15","value":0},"value":1},"labelExpr":"replace(format(datum.value, '.2f'), '\u2212', '-')","labelPadding":17,"labelOverlap":false,"title":null,"ticks":false,"domain":false}},
   "color":{"field":"s","type":"nominal","scale":{"domain":["Vna","Vnb","Vnc"],"range":["#000","#000","#999"]},"legend":{"orient":"none","legendX":120,"legendY":12,"direction":"horizontal","columns":3,"title":null,"symbolSize":0,"symbolOpacity":0,"symbolStrokeWidth":0,"labelOffset":0,"columnPadding":31,"gridAlign":"all","labelFont":"DejaVu Sans","labelFontSize":10,"labelColor":{"expr":"datum.value == 'Vnc' ? '#999' : '#000'"}}},
   "strokeWidth":{"field":"s","type":"nominal","scale":{"domain":["Vna","Vnb","Vnc"],"range":[1.6,1.8,1.2]},"legend":null}}}
]},
{"width":546,"height":203,"resolve":{"axis":{"x":"independent"}},"layer":[
 {"data":{"name":"box3"},"mark":{"type":"rect","filled":false,"stroke":"#555","strokeWidth":1,"strokeDash":[1,1]},
  "encoding":{
   "x":{"field":"x0","type":"quantitative","scale":{"domain":[80,160],"range":[125,483],"nice":false,"zero":false},"axis":{"orient":"top","grid":true,"values":[100,120,140],"labels":false,"ticks":false,"domain":false,"title":null,"gridDash":[2,2],"gridColor":"#000"}},
   "x2":{"field":"x1"},
   "y":{"field":"y0","type":"quantitative","scale":{"domain":[-15,15],"range":[163,27],"nice":false,"zero":false},"axis":{"orient":"left","offset":-125,"values":[-15,-10,-5,0,5,10,15],"grid":true,"gridDash":[5,5],"gridColor":"#000","gridOpacity":{"condition":{"test":"datum.value <= -15 || datum.value >= 15","value":0},"value":1},"labelExpr":"replace(format(datum.value, '.2f'), '\u2212', '-')","labelPadding":17,"labelOverlap":false,"title":null,"ticks":false,"domain":false}},
   "y2":{"field":"y1"}}},
 {"data":{"name":"r3b"},"mark":{"type":"line","interpolate":"monotone"},
  "encoding":{
   "x":{"field":"t","type":"quantitative","scale":{"domain":[80,160],"range":[125,483],"nice":false,"zero":false},"axis":{"orient":"bottom","offset":-40,"values":[80,100,120,140,160],"format":".2f","grid":false,"ticks":false,"domain":false,"labelPadding":6,"labelFlush":false,"labelOverlap":false,"title":"Time (ms)","titlePadding":2}},
   "y":{"field":"v","type":"quantitative","scale":{"domain":[-15,15],"range":[163,27],"nice":false,"zero":false},"axis":{"orient":"left","offset":-125,"values":[-15,-10,-5,0,5,10,15],"grid":true,"gridDash":[5,5],"gridColor":"#000","gridOpacity":{"condition":{"test":"datum.value <= -15 || datum.value >= 15","value":0},"value":1},"labelExpr":"replace(format(datum.value, '.2f'), '\u2212', '-')","labelPadding":17,"labelOverlap":false,"title":null,"ticks":false,"domain":false}},
   "color":{"field":"s","type":"nominal","scale":{"domain":["Vna","Vnb","Vnc"],"range":["#000","#000","#999"]},"legend":{"orient":"none","legendX":116,"legendY":12,"direction":"horizontal","columns":3,"title":null,"symbolSize":0,"symbolOpacity":0,"symbolStrokeWidth":0,"labelOffset":0,"columnPadding":31,"gridAlign":"all","labelFont":"DejaVu Sans","labelFontSize":10,"labelColor":{"expr":"datum.value == 'Vnc' ? '#999' : '#000'"}}},
   "strokeWidth":{"field":"s","type":"nominal","scale":{"domain":["Vna","Vnb","Vnc"],"range":[1.6,1.8,1.2]},"legend":null}}}
]},

{"width":170,"height":207,"data":{"values":[{"h":"PI제어기\n출력신호"}]},"layer":[
 {"mark":{"type":"rect","filled":false,"stroke":"#000","strokeWidth":1.5},"encoding":{}},
 {"mark":{"type":"text","font":"Noto Sans CJK KR","fontSize":16,"lineBreak":"\n","lineHeight":24,"dy":-12,"color":"#000"},"encoding":{"text":{"field":"h","type":"nominal"}}}]},
{"width":552,"height":207,"resolve":{"axis":{"x":"independent"}},"layer":[
 {"data":{"name":"box4"},"mark":{"type":"rect","filled":false,"stroke":"#555","strokeWidth":1,"strokeDash":[1,1]},
  "encoding":{
   "x":{"field":"x0","type":"quantitative","scale":{"domain":[80,160],"range":[129,487],"nice":false,"zero":false},"axis":{"orient":"top","grid":true,"values":[100,120,140],"labels":false,"ticks":false,"domain":false,"title":null,"gridDash":[2,2],"gridColor":"#000"}},
   "x2":{"field":"x1"},
   "y":{"field":"y0","type":"quantitative","scale":{"domain":[-60,60],"range":[171,28],"nice":false,"zero":false},"axis":{"orient":"left","offset":-129,"values":[-60,-40,-20,0,20,40,60],"grid":true,"gridDash":[5,5],"gridColor":"#000","gridOpacity":{"condition":{"test":"datum.value <= -60 || datum.value >= 60","value":0},"value":1},"labelExpr":"replace(format(datum.value, '.2f'), '\u2212', '-')","labelPadding":17,"labelOverlap":false,"title":null,"ticks":false,"domain":false}},
   "y2":{"field":"y1"}}},
 {"data":{"name":"r4a"},"mark":{"type":"line","strokeWidth":1.6,"interpolate":"monotone"},
  "encoding":{
   "x":{"field":"t","type":"quantitative","scale":{"domain":[80,160],"range":[129,487],"nice":false,"zero":false},"axis":{"orient":"bottom","offset":-36,"values":[80,100,120,140,160],"format":".2f","grid":false,"ticks":false,"domain":false,"labelPadding":6,"labelFlush":false,"labelOverlap":false,"title":"Time (ms)","titlePadding":2}},
   "y":{"field":"v","type":"quantitative","scale":{"domain":[-60,60],"range":[171,28],"nice":false,"zero":false},"axis":{"orient":"left","offset":-129,"values":[-60,-40,-20,0,20,40,60],"grid":true,"gridDash":[5,5],"gridColor":"#000","gridOpacity":{"condition":{"test":"datum.value <= -60 || datum.value >= 60","value":0},"value":1},"labelExpr":"replace(format(datum.value, '.2f'), '\u2212', '-')","labelPadding":17,"labelOverlap":false,"title":null,"ticks":false,"domain":false}},
   "color":{"field":"s","type":"nominal","scale":{"domain":["Upd","Upq"],"range":["#000","#000"]},"legend":{"orient":"none","legendX":120,"legendY":14,"direction":"horizontal","columns":2,"title":null,"symbolSize":0,"symbolOpacity":0,"symbolStrokeWidth":0,"labelOffset":0,"columnPadding":34,"gridAlign":"all","labelFont":"DejaVu Sans","labelFontSize":10,"labelColor":"#000"}}}}
]},
{"width":546,"height":207,"resolve":{"axis":{"x":"independent"}},"layer":[
 {"data":{"name":"box4"},"mark":{"type":"rect","filled":false,"stroke":"#555","strokeWidth":1,"strokeDash":[1,1]},
  "encoding":{
   "x":{"field":"x0","type":"quantitative","scale":{"domain":[80,160],"range":[125,484],"nice":false,"zero":false},"axis":{"orient":"top","grid":true,"values":[100,120,140],"labels":false,"ticks":false,"domain":false,"title":null,"gridDash":[2,2],"gridColor":"#000"}},
   "x2":{"field":"x1"},
   "y":{"field":"y0","type":"quantitative","scale":{"domain":[-60,60],"range":[171,28],"nice":false,"zero":false},"axis":{"orient":"left","offset":-125,"values":[-60,-40,-20,0,20,40,60],"grid":true,"gridDash":[5,5],"gridColor":"#000","gridOpacity":{"condition":{"test":"datum.value <= -60 || datum.value >= 60","value":0},"value":1},"labelExpr":"replace(format(datum.value, '.2f'), '\u2212', '-')","labelPadding":17,"labelOverlap":false,"title":null,"ticks":false,"domain":false}},
   "y2":{"field":"y1"}}},
 {"data":{"name":"r4b"},"mark":{"type":"line","interpolate":"monotone"},
  "encoding":{
   "x":{"field":"t","type":"quantitative","scale":{"domain":[80,160],"range":[125,484],"nice":false,"zero":false},"axis":{"orient":"bottom","offset":-36,"values":[80,100,120,140,160],"format":".2f","grid":false,"ticks":false,"domain":false,"labelPadding":6,"labelFlush":false,"labelOverlap":false,"title":"Time (ms)","titlePadding":2}},
   "y":{"field":"v","type":"quantitative","scale":{"domain":[-60,60],"range":[171,28],"nice":false,"zero":false},"axis":{"orient":"left","offset":-125,"values":[-60,-40,-20,0,20,40,60],"grid":true,"gridDash":[5,5],"gridColor":"#000","gridOpacity":{"condition":{"test":"datum.value <= -60 || datum.value >= 60","value":0},"value":1},"labelExpr":"replace(format(datum.value, '.2f'), '\u2212', '-')","labelPadding":17,"labelOverlap":false,"title":null,"ticks":false,"domain":false}},
   "color":{"field":"s","type":"nominal","scale":{"domain":["Upd","Upq","Und","Unq"],"range":["#000","#000","#999","#000"]},"legend":{"orient":"none","legendX":116,"legendY":14,"direction":"horizontal","columns":4,"title":null,"symbolSize":0,"symbolOpacity":0,"symbolStrokeWidth":0,"labelOffset":0,"columnPadding":31,"gridAlign":"all","labelFont":"DejaVu Sans","labelFontSize":10,"labelColor":{"expr":"datum.value == 'Und' ? '#999' : '#000'"}}},
   "strokeWidth":{"field":"s","type":"nominal","scale":{"domain":["Upd","Upq","Und","Unq"],"range":[1.6,1.6,1.2,1.3]},"legend":null}}}
]}
]
}
